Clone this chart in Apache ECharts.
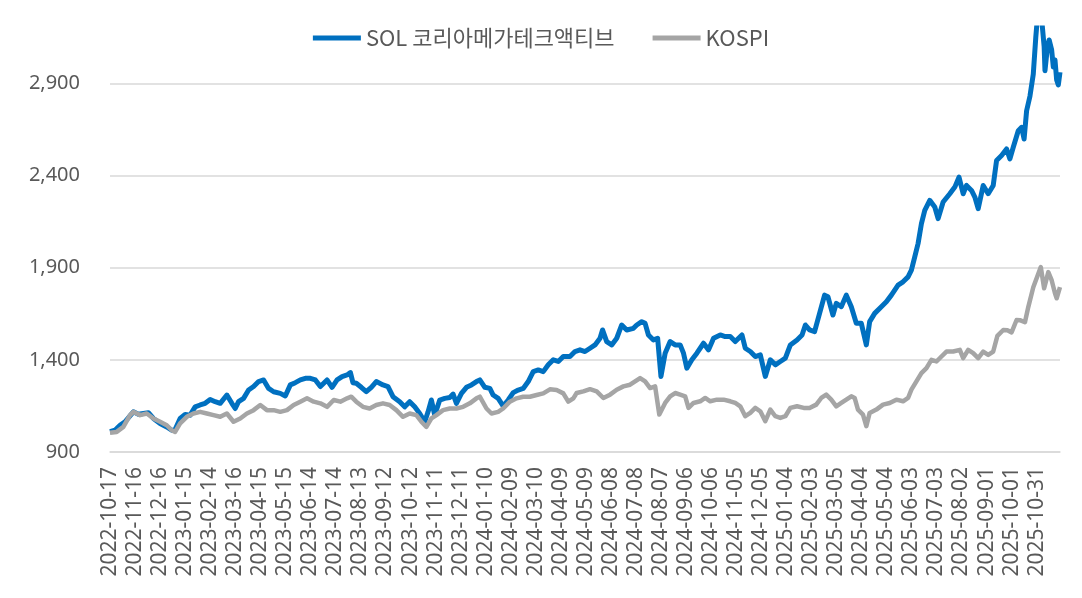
<!DOCTYPE html>
<html><head><meta charset="utf-8">
<script src="https://cdn.jsdelivr.net/npm/echarts@6/dist/echarts.min.js"></script>
<style>html,body{margin:0;padding:0;background:#fff}#c{width:1082px;height:598px}</style>
</head><body><div id="c"></div>
<script>
const seriesNames = ['SOL 코리아메가테크액티브', 'KOSPI'];
const startYear = 2022, startMonth = 10, startDay = 17;
const dayCount = 1139;
const yMin = 900, yMax = 3200, yStep = 500;

// days since 2022-10-17 and index values
const solDays = [0,6,12,18,28,34,40,46,52,60,68,74,78,84,90,96,102,108,114,120,126,132,140,146,150,154,160,166,172,178,184,190,196,204,210,216,222,228,234,240,246,252,260,266,272,278,284,288,291,295,301,307,313,319,327,333,339,347,353,359,365,371,377,381,385,389,395,401,407,411,415,421,427,433,439,443,449,455,459,465,471,477,483,489,495,501,507,513,519,525,531,537,543,551,557,563,569,575,581,587,590,595,601,607,613,619,627,631,637,641,645,651,656,660,665,671,677,683,687,691,697,703,711,717,723,731,737,743,749,757,761,767,773,779,785,791,797,803,809,815,823,829,833,838,844,850,856,860,866,870,876,882,888,894,900,906,910,916,924,930,936,944,950,956,960,964,968,972,976,982,988,992,998,1006,1012,1017,1022,1026,1032,1036,1040,1046,1052,1058,1062,1068,1074,1078,1082,1088,1092,1095,1098,1102,1106,1109,1111,1116,1119,1120,1123,1125,1128,1130,1132,1134,1136,1138];
const solValues = [1010,1018,1045,1064,1118,1105,1109,1113,1082,1055,1036,1018,1022,1082,1104,1100,1145,1155,1164,1185,1173,1164,1209,1164,1136,1173,1191,1236,1255,1282,1291,1245,1227,1218,1204,1264,1276,1291,1300,1300,1291,1255,1291,1251,1291,1309,1318,1331,1276,1273,1251,1227,1251,1282,1264,1255,1200,1173,1145,1173,1145,1109,1064,1118,1182,1100,1182,1191,1196,1214,1164,1218,1251,1264,1282,1291,1251,1245,1209,1191,1149,1182,1222,1236,1245,1282,1336,1345,1336,1373,1400,1391,1418,1418,1445,1454,1445,1463,1481,1517,1562,1499,1481,1517,1589,1562,1571,1589,1607,1598,1535,1508,1517,1310,1436,1499,1481,1481,1436,1355,1400,1436,1490,1454,1517,1535,1526,1526,1499,1535,1463,1445,1418,1427,1310,1400,1373,1391,1409,1481,1508,1535,1589,1562,1553,1652,1751,1742,1643,1706,1688,1751,1688,1598,1598,1481,1607,1652,1688,1715,1751,1805,1823,1850,1887,1959,2031,2139,2211,2265,2229,2166,2256,2301,2337,2391,2301,2346,2319,2283,2220,2346,2301,2346,2481,2508,2544,2490,2553,2643,2661,2598,2751,2830,2950,3150,3260,3250,3100,2968,3100,3135,3081,2989,3027,2918,2891,2960];

const kospiDays = [0,8,16,24,28,36,44,52,60,68,74,78,84,92,100,108,116,124,132,140,148,156,164,172,180,188,196,204,212,220,228,236,244,252,260,268,276,284,289,295,303,311,319,327,335,343,351,359,367,373,379,385,391,399,407,415,423,431,439,443,451,457,465,471,479,487,495,503,511,519,527,535,543,549,555,559,567,575,583,591,599,607,615,623,629,635,641,647,653,658,665,671,677,683,689,693,699,707,713,719,727,735,743,749,755,761,767,773,779,785,791,797,803,809,815,823,831,838,846,852,858,864,870,876,882,888,892,896,902,906,910,918,926,934,942,950,956,960,966,972,978,984,990,996,1002,1010,1018,1022,1028,1034,1040,1046,1052,1058,1063,1070,1075,1080,1086,1090,1096,1100,1106,1110,1115,1119,1124,1128,1132,1134,1138];
const kospiValues = [1005,1009,1036,1100,1118,1100,1109,1082,1064,1045,1018,1009,1055,1091,1109,1118,1109,1100,1091,1109,1064,1082,1109,1127,1155,1127,1127,1118,1127,1155,1173,1191,1173,1164,1145,1182,1173,1191,1200,1173,1145,1136,1155,1164,1155,1127,1091,1109,1100,1064,1036,1082,1100,1127,1136,1136,1145,1164,1191,1200,1136,1109,1118,1136,1173,1191,1200,1200,1209,1218,1240,1236,1218,1173,1191,1220,1229,1241,1229,1193,1211,1238,1256,1265,1283,1301,1283,1247,1256,1103,1166,1202,1220,1211,1202,1139,1166,1175,1193,1175,1184,1184,1175,1166,1148,1094,1112,1139,1121,1067,1130,1094,1085,1094,1139,1148,1139,1139,1157,1193,1211,1184,1148,1166,1184,1202,1193,1130,1103,1040,1112,1130,1157,1166,1184,1175,1193,1238,1283,1328,1355,1400,1391,1418,1445,1445,1454,1409,1454,1436,1409,1445,1427,1445,1530,1562,1560,1549,1616,1615,1604,1686,1794,1843,1903,1788,1876,1832,1761,1734,1794];

const categories = [];
const t0 = Date.UTC(startYear, startMonth - 1, startDay);
for (let i = 0; i < dayCount; i++) {
  categories.push(new Date(t0 + i * 86400000).toISOString().slice(0, 10));
}
const pair = (days, vals) => days.map((d, i) => [categories[d], vals[i]]);

const textColor = '#595959';
const gridColor = '#d9d9d9';
const chart = echarts.init(document.getElementById('c'));
chart.setOption({
  animation: false,
  backgroundColor: '#fff',
  legend: {
    top: 22, left: 'center', icon: 'rect', itemWidth: 48, itemHeight: 5, itemGap: 38,
    textStyle: { fontFamily: 'Noto Sans CJK KR', fontSize: 22, color: textColor },
    data: seriesNames
  },
  grid: { left: 110, right: 22, top: 28, bottom: 146 },
  xAxis: {
    type: 'category', data: categories, boundaryGap: false,
    axisTick: { show: false },
    axisLine: { lineStyle: { color: gridColor, width: 1.5 } },
    axisLabel: { interval: 29, rotate: 90, margin: 15, fontSize: 21, fontFamily: 'Noto Sans', color: textColor }
  },
  yAxis: {
    type: 'value', min: yMin, max: yMax, interval: yStep,
    axisLine: { show: false }, axisTick: { show: false },
    axisLabel: { showMaxLabel: false, margin: 30, fontSize: 20, fontFamily: 'Noto Sans', color: textColor,
      formatter: v => v.toLocaleString('en-US') },
    splitLine: { showMaxLine: false, lineStyle: { color: gridColor, width: 1.5 } }
  },
  series: [
    { name: seriesNames[0], type: 'line', symbol: 'none', showSymbol: false,
      lineStyle: { color: '#0070C0', width: 5, join: 'round' }, itemStyle: { color: '#0070C0' },
      data: pair(solDays, solValues) },
    { name: seriesNames[1], type: 'line', symbol: 'none', showSymbol: false,
      lineStyle: { color: '#A5A5A5', width: 4.5, join: 'round' }, itemStyle: { color: '#A5A5A5' },
      data: pair(kospiDays, kospiValues) }
  ]
});
</script></body></html>
